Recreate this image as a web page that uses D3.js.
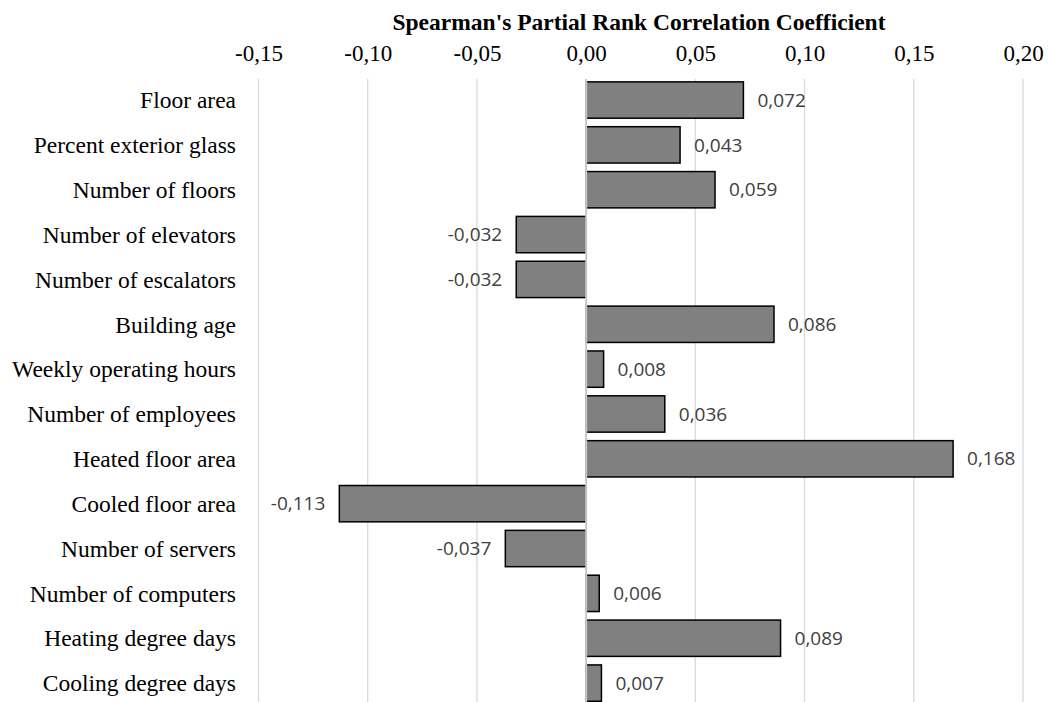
<!DOCTYPE html>
<html>
<head>
<meta charset="utf-8">
<script src="https://cdn.jsdelivr.net/npm/d3@7"></script>
<style>
  body { margin: 0; background: #fff; }
</style>
</head>
<body>
<svg width="1048" height="702"></svg>
<script>
const categories = [
  "Floor area", "Percent exterior glass", "Number of floors", "Number of elevators",
  "Number of escalators", "Building age", "Weekly operating hours", "Number of employees",
  "Heated floor area", "Cooled floor area", "Number of servers", "Number of computers",
  "Heating degree days", "Cooling degree days"
];
const values = [0.072, 0.043, 0.059, -0.032, -0.032, 0.086, 0.008, 0.036, 0.168, -0.113, -0.037, 0.006, 0.089, 0.007];
const ticks = [-0.15, -0.10, -0.05, 0.00, 0.05, 0.10, 0.15, 0.20];

const svg = d3.select("svg"),
  width = +svg.attr("width"),
  height = +svg.attr("height");

const serif = "'Liberation Serif', 'Times New Roman', serif";
const fmt = (v, n) => d3.format(`.${n}f`)(v).replace("−", "-").replace(".", ",");

// Escalas
const x = d3.scaleLinear().domain([-0.15, 0.20]).range([258.5, 1023]);
const y = d3.scaleBand().domain(categories).range([77.6, 705.5]).paddingInner(0.19).paddingOuter(0.095);

// Título
svg.append("text")
  .attr("x", 639).attr("y", 30)
  .attr("text-anchor", "middle")
  .style("font-family", serif)
  .style("font-weight", "bold")
  .style("font-size", "23.5px")
  .text("Spearman's Partial Rank Correlation Coefficient");

// Rejilla
svg.append("g").selectAll("line")
  .data(ticks.filter(t => t !== 0))
  .join("line")
  .attr("x1", d => x(d)).attr("x2", d => x(d))
  .attr("y1", 79).attr("y2", height)
  .attr("stroke", "#d9d9d9").attr("stroke-width", 1.3);

// Eje superior
const axis = svg.append("g")
  .attr("transform", "translate(0,61)")
  .call(d3.axisTop(x).tickValues(ticks).tickSize(0).tickPadding(0).tickFormat(d => fmt(d, 2)));
axis.select(".domain").remove();
axis.selectAll("text")
  .attr("dy", 0)
  .style("font-family", serif)
  .style("font-size", "23px")
  .attr("fill", "#000");

// Barras
svg.append("g").selectAll("rect")
  .data(values)
  .join("rect")
  .attr("x", d => x(Math.min(0, d)))
  .attr("y", (d, i) => y(categories[i]))
  .attr("width", d => Math.abs(x(d) - x(0)))
  .attr("height", y.bandwidth())
  .attr("fill", "#808080")
  .attr("stroke", "#000")
  .attr("stroke-width", 1.5);

// Línea de cero
svg.append("line")
  .attr("x1", x(0)).attr("x2", x(0))
  .attr("y1", 79).attr("y2", height)
  .attr("stroke", "#c8c8c8").attr("stroke-width", 2);

// Etiquetas de categoría
svg.append("g").selectAll("text")
  .data(categories)
  .join("text")
  .attr("x", 236)
  .attr("y", d => y(d) + y.bandwidth() / 2)
  .attr("dy", "0.35em")
  .attr("text-anchor", "end")
  .style("font-family", serif)
  .style("font-size", "23.5px")
  .text(d => d);

// Etiquetas de valor
svg.append("g").selectAll("text")
  .data(values)
  .join("text")
  .attr("x", d => x(d) + (d >= 0 ? 14 : -14))
  .attr("y", (d, i) => y(categories[i]) + y.bandwidth() / 2)
  .attr("dy", "0.35em")
  .attr("text-anchor", d => d >= 0 ? "start" : "end")
  .style("font-family", "'Open Sans', sans-serif")
  .style("font-size", "19px")
  .attr("fill", "#404040")
  .text(d => fmt(d, 3));
</script>
</body>
</html>
